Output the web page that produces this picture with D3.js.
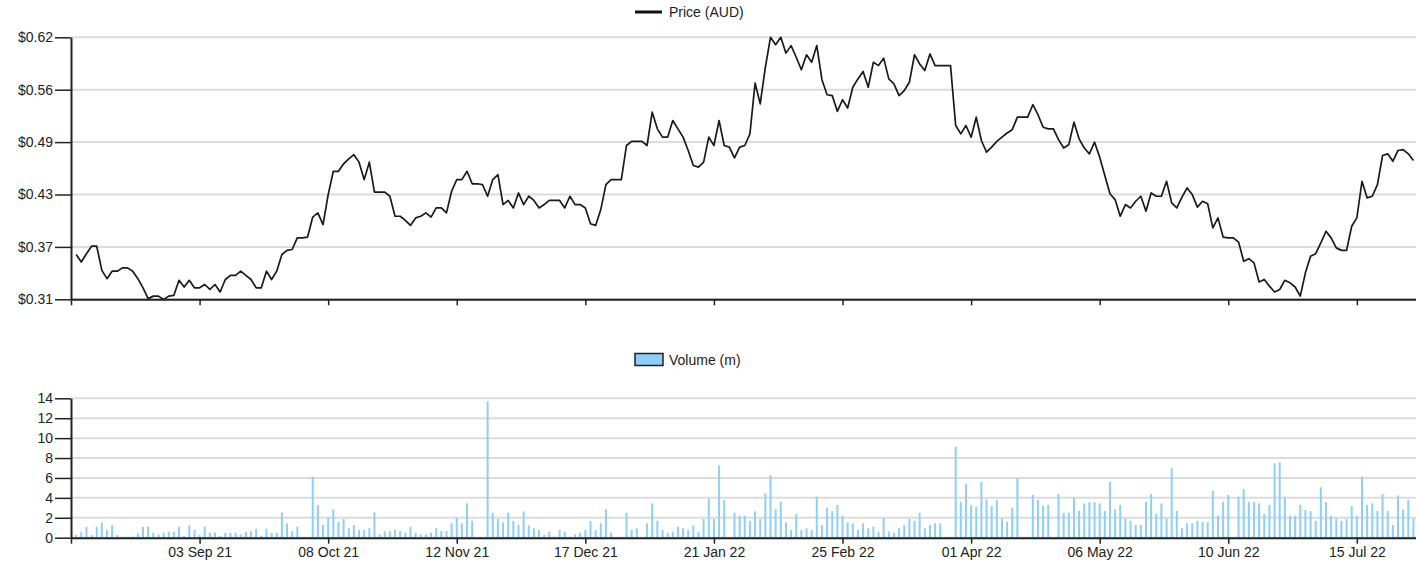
<!DOCTYPE html>
<html>
<head>
<meta charset="utf-8">
<script src="https://cdn.jsdelivr.net/npm/d3@7"></script>
<style>
  body { margin: 0; background: #fff; }
  svg { display: block; font-family: Arial, "Liberation Sans", sans-serif; }
</style>
</head>
<body>
<div id="chart"></div>
<script>
// x ticks sit every 25 trading days (index 0 = 30 Jul 21, first label hidden)
const tickIndex = [0, 25, 50, 75, 100, 125, 150, 175, 200, 225, 250];
const tickLabels = ['', '03 Sep 21', '08 Oct 21', '12 Nov 21', '17 Dec 21', '21 Jan 22',
  '25 Feb 22', '01 Apr 22', '06 May 22', '10 Jun 22', '15 Jul 22'];

// closing price (AUD), one per trading day starting at index 1
const price = [
  0.359, 0.350, 0.360, 0.369, 0.369, 0.340, 0.330, 0.339, 0.339, 0.343,
  0.343, 0.339, 0.330, 0.319, 0.306, 0.309, 0.309, 0.305, 0.309, 0.310,
  0.328, 0.320, 0.328, 0.319, 0.319, 0.323, 0.317, 0.323, 0.314, 0.329,
  0.334, 0.334, 0.339, 0.334, 0.329, 0.319, 0.319, 0.339, 0.329, 0.339,
  0.359, 0.364, 0.365, 0.379, 0.379, 0.380, 0.404, 0.409, 0.395, 0.431,
  0.459, 0.459, 0.468, 0.474, 0.479, 0.470, 0.449, 0.470, 0.434, 0.434,
  0.434, 0.429, 0.405, 0.405, 0.400, 0.394, 0.403, 0.405, 0.409, 0.404,
  0.415, 0.415, 0.409, 0.435, 0.449, 0.449, 0.459, 0.444, 0.444, 0.443,
  0.429, 0.449, 0.455, 0.419, 0.424, 0.415, 0.433, 0.419, 0.429, 0.424,
  0.415, 0.419, 0.424, 0.424, 0.424, 0.415, 0.429, 0.419, 0.419, 0.415,
  0.396, 0.394, 0.413, 0.443, 0.449, 0.449, 0.449, 0.490, 0.495, 0.495,
  0.495, 0.490, 0.530, 0.510, 0.500, 0.500, 0.520, 0.510, 0.500, 0.484,
  0.466, 0.464, 0.470, 0.500, 0.490, 0.520, 0.490, 0.488, 0.475, 0.488,
  0.490, 0.504, 0.565, 0.540, 0.584, 0.620, 0.611, 0.620, 0.601, 0.610,
  0.596, 0.581, 0.599, 0.590, 0.610, 0.569, 0.551, 0.550, 0.531, 0.545,
  0.535, 0.560, 0.570, 0.579, 0.560, 0.590, 0.586, 0.595, 0.570, 0.564,
  0.550, 0.556, 0.566, 0.599, 0.588, 0.580, 0.600, 0.586, 0.586, 0.586,
  0.586, 0.514, 0.504, 0.514, 0.500, 0.524, 0.496, 0.482, 0.488, 0.495,
  0.500, 0.505, 0.509, 0.524, 0.524, 0.524, 0.539, 0.527, 0.512, 0.510,
  0.510, 0.497, 0.487, 0.491, 0.518, 0.498, 0.487, 0.480, 0.494, 0.476,
  0.454, 0.432, 0.425, 0.405, 0.419, 0.415, 0.423, 0.429, 0.411, 0.433,
  0.429, 0.429, 0.447, 0.421, 0.415, 0.428, 0.439, 0.431, 0.416, 0.423,
  0.420, 0.391, 0.403, 0.380, 0.379, 0.379, 0.374, 0.351, 0.354, 0.349,
  0.326, 0.329, 0.321, 0.314, 0.317, 0.328, 0.325, 0.320, 0.309, 0.337,
  0.357, 0.360, 0.373, 0.387, 0.379, 0.367, 0.364, 0.364, 0.393, 0.403,
  0.447, 0.427, 0.429, 0.443, 0.478, 0.480, 0.471, 0.484, 0.485, 0.480,
  0.472
];

// traded volume (millions), same days as price
const volume = [
  0.27, 0.6, 1.1, 0.27, 1.1, 1.55, 0.77, 1.24, 0.27, 0.1,
  0.1, 0.1, 0.44, 1.1, 1.1, 0.5, 0.33, 0.5, 0.6, 0.6,
  1.1, 0.17, 1.24, 0.77, 0.27, 1.1, 0.5, 0.5, 0.17, 0.5,
  0.5, 0.5, 0.33, 0.6, 0.67, 0.9, 0.17, 0.9, 0.5, 0.5,
  2.55, 1.44, 0.67, 1.1, 0, 0, 6.13, 3.28, 1.27, 2.0,
  2.85, 1.6, 1.88, 0.94, 1.27, 0.77, 0.77, 0.94, 2.55, 0.33,
  0.64, 0.64, 0.77, 0.67, 0.5, 1.1, 0.5, 0.33, 0.33, 0.5,
  0.94, 0.67, 0.67, 1.44, 2.0, 1.44, 3.45, 1.7, 0, 0,
  13.7, 2.5, 1.88, 1.54, 2.5, 1.7, 1.27, 2.65, 1.24, 0.94,
  0.77, 0.27, 0.6, 0.1, 0.77, 0.6, 0.1, 0.33, 0.5, 0.77,
  1.67, 0.77, 1.44, 2.85, 0.5, 0, 0, 2.5, 0.77, 0.94,
  0, 1.44, 3.45, 1.7, 0.77, 0.5, 0.6, 1.1, 0.94, 0.77,
  1.24, 0.6, 1.88, 3.92, 1.88, 7.27, 3.78, 0, 2.5, 2.2,
  2.2, 1.7, 2.65, 1.88, 4.45, 6.3, 2.85, 3.6, 1.54, 0.77,
  2.38, 0.77, 0.94, 0.77, 4.12, 1.27, 3.0, 2.68, 3.3, 2.2,
  1.54, 1.44, 0.77, 1.44, 0.94, 1.1, 0.6, 1.98, 0.6, 0.5,
  0.94, 1.27, 1.88, 1.7, 2.5, 0.94, 1.27, 1.44, 1.44, 0,
  0, 9.14, 3.6, 5.4, 3.28, 3.1, 5.6, 3.85, 3.18, 3.78,
  1.94, 1.6, 3.0, 5.96, 0, 0, 4.29, 3.78, 3.18, 3.3,
  0, 4.39, 2.5, 2.5, 4.05, 2.68, 3.45, 3.58, 3.58, 3.45,
  2.68, 5.6, 2.85, 3.3, 1.94, 1.7, 1.27, 1.27, 3.6, 4.39,
  2.38, 3.45, 1.94, 6.97, 2.68, 0.94, 1.44, 1.44, 1.7, 1.57,
  1.57, 4.72, 2.2, 3.58, 4.29, 0, 4.12, 4.89, 3.6, 3.6,
  3.45, 2.38, 3.3, 7.47, 7.57, 4.12, 2.2, 2.2, 3.3, 2.78,
  2.68, 1.7, 5.06, 3.58, 2.2, 1.94, 1.7, 1.88, 3.18, 2.2,
  6.13, 3.3, 3.45, 2.68, 4.39, 2.68, 1.27, 4.25, 2.85, 3.78,
  1.94
];

const priceDomain = [0.3052, 0.62];
const volumeTicks = [0, 2, 4, 6, 8, 10, 12, 14];

const width = 1416, height = 564;
const left = 71;
const fontSize = 14;

const svg = d3.select('#chart')
  .append('svg')
  .attr('width', width)
  .attr('height', height);

// shared x scale over trading-day index
const x = d3.scaleLinear().domain([0, 261.5]).range([left, width]);

// ---------- price panel ----------
const yP = d3.scaleLinear().domain(priceDomain).range([299.3, 37.3]);
const priceTicks = d3.range(6).map(k => priceDomain[0] + k * (priceDomain[1] - priceDomain[0]) / 5);

const priceG = svg.append('g');

priceG.append('g')
  .selectAll('line')
  .data(priceTicks)
  .join('line')
  .attr('x1', left).attr('x2', width)
  .attr('y1', d => yP(d)).attr('y2', d => yP(d))
  .attr('stroke', '#dcdcdc')
  .attr('stroke-width', 2);

priceG.append('path')
  .datum(price)
  .attr('fill', 'none')
  .attr('stroke', '#1a1a1a')
  .attr('stroke-width', 1.7)
  .attr('stroke-linejoin', 'round')
  .attr('d', d3.line().x((d, i) => x(i + 1)).y(d => yP(d)));

const yAxisP = priceG.append('g')
  .attr('transform', `translate(${left},0)`)
  .call(d3.axisLeft(yP).tickValues(priceTicks).tickFormat(d3.format('$.2f'))
    .tickSize(16).tickPadding(2).tickSizeOuter(0));

const xAxisP = priceG.append('g')
  .attr('transform', `translate(0,${yP.range()[0]})`)
  .call(d3.axisBottom(x).tickValues(tickIndex).tickFormat('').tickSize(6).tickSizeOuter(0));

// legend
priceG.append('line')
  .attr('x1', 635).attr('x2', 662).attr('y1', 12).attr('y2', 12)
  .attr('stroke', '#111').attr('stroke-width', 3);
priceG.append('text')
  .attr('x', 669).attr('y', 12).attr('dy', '0.35em')
  .attr('font-size', fontSize).attr('fill', '#222')
  .text('Price (AUD)');

// ---------- volume panel ----------
const yV = d3.scaleLinear().domain([0, 14]).range([537.7, 398.3]);

const volG = svg.append('g');

volG.append('g')
  .selectAll('line')
  .data(volumeTicks)
  .join('line')
  .attr('x1', left).attr('x2', width)
  .attr('y1', d => yV(d)).attr('y2', d => yV(d))
  .attr('stroke', '#dcdcdc')
  .attr('stroke-width', 2);

volG.append('g')
  .selectAll('rect')
  .data(volume)
  .join('rect')
  .attr('x', (d, i) => x(i + 1) - 1)
  .attr('width', 2)
  .attr('y', d => yV(d))
  .attr('height', d => yV(0) - yV(d))
  .attr('fill', '#8ecffa');

const yAxisV = volG.append('g')
  .attr('transform', `translate(${left},0)`)
  .call(d3.axisLeft(yV).tickValues(volumeTicks).tickSize(16).tickPadding(2).tickSizeOuter(0));

const xAxisV = volG.append('g')
  .attr('transform', `translate(0,${yV.range()[0]})`)
  .call(d3.axisBottom(x).tickValues(tickIndex).tickFormat((d, i) => tickLabels[i])
    .tickSize(6).tickPadding(3).tickSizeOuter(0));

// legend
volG.append('rect')
  .attr('x', 635).attr('y', 353.5).attr('width', 28).attr('height', 12)
  .attr('fill', '#8ecffa').attr('stroke', '#222').attr('stroke-width', 1.5);
volG.append('text')
  .attr('x', 669).attr('y', 360).attr('dy', '0.35em')
  .attr('font-size', fontSize).attr('fill', '#222')
  .text('Volume (m)');

// shared axis styling
[yAxisP, xAxisP, yAxisV, xAxisV].forEach(a => {
  a.selectAll('.domain').attr('stroke', '#222').attr('stroke-width', 2);
  a.selectAll('.tick line').attr('stroke', '#222').attr('stroke-width', 1.5);
  a.selectAll('text').attr('font-size', fontSize).attr('fill', '#222')
    .attr('font-family', 'Arial, "Liberation Sans", sans-serif');
});
</script>
</body>
</html>
